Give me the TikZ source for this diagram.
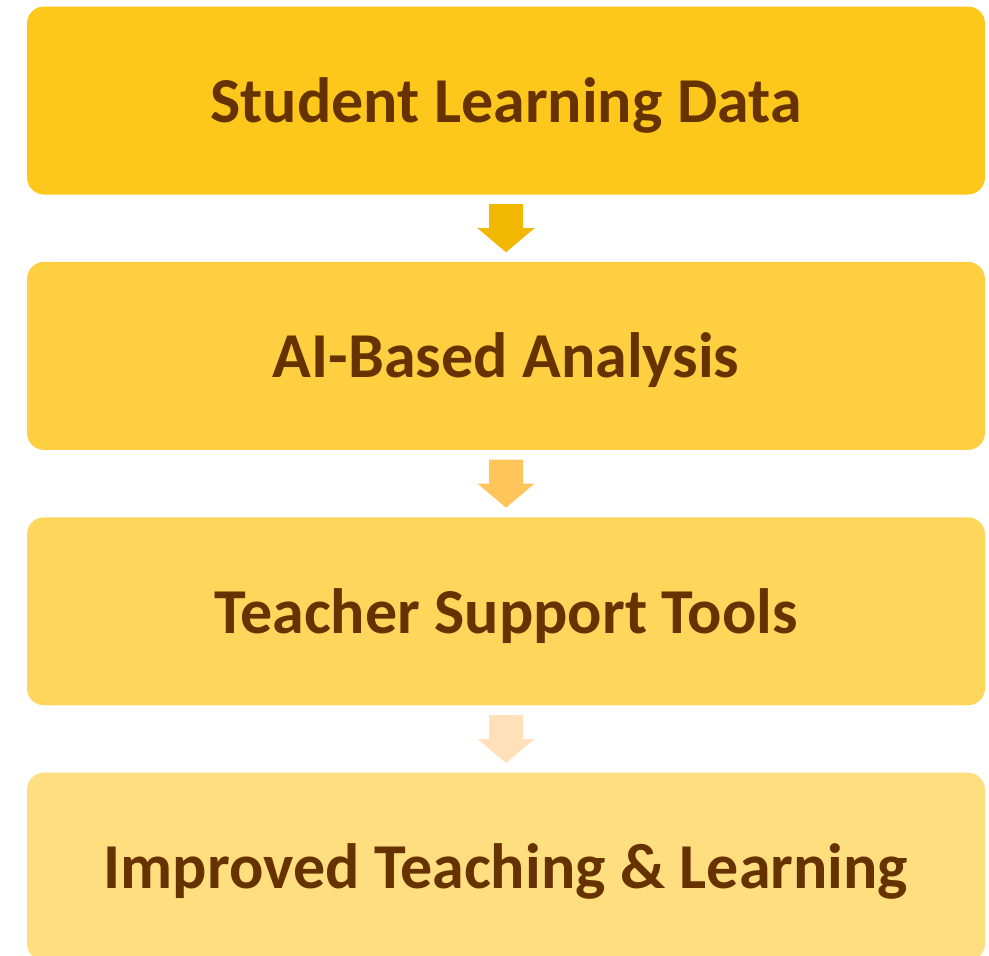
\documentclass[tikz,border=0pt]{standalone}
\usepackage{fontspec}
\setmainfont{Carlito}
\usetikzlibrary{calc,positioning}

\definecolor{stepA}{HTML}{FEC71C}
\definecolor{stepB}{HTML}{FECF40}
\definecolor{stepC}{HTML}{FED65C}
\definecolor{stepD}{HTML}{FEDE7E}
\definecolor{arrA}{HTML}{F2B700}
\definecolor{arrB}{HTML}{FFC55A}
\definecolor{arrC}{HTML}{FFE0B8}
\definecolor{txtbrown}{HTML}{663300}

\tikzset{
  stepbox/.style={rectangle, rounded corners=17pt, minimum width=958pt, minimum height=188pt,
    inner sep=0pt},
  steptext/.style={text=txtbrown, font=\fontsize{64}{70}\selectfont\bfseries, inner sep=0pt}
}

\begin{document}
\begin{tikzpicture}[x=1pt,y=-1pt]
  \useasboundingbox (0,0) rectangle (989,956);
  \node[stepbox, fill=stepA] at (506,100.5) (Data){};
  \node[stepbox, fill=stepB, below=67pt of Data] (Analysis){};
  \node[stepbox, fill=stepC, below=67pt of Analysis] (Tools){};
  \node[stepbox, fill=stepD, below=67pt of Tools] (Improved){};

  \node[steptext, anchor=base] at ($(Data.center)+(0,22)$) (DataT){Student Learning Data};
  \node[steptext, anchor=base] at ($(Analysis.center)+(0,22)$) (AnalysisT){AI-Based Analysis};
  \node[steptext, anchor=base] at ($(Tools.center)+(0,22)$) (ToolsT){Teacher Support Tools};
  \node[steptext, anchor=base] at ($(Improved.center)+(0,22)$) (ImprovedT){Improved Teaching \& Learning};

  % block arrows between the steps
  \foreach \a/\b/\c in {Data/Analysis/arrA, Analysis/Tools/arrB, Tools/Improved/arrC}{
    \coordinate (M\a) at ($(\a.south)!0.5!(\b.north)$);
    \fill[\c] ($(M\a)+(-17,-24)$) -- ($(M\a)+(17,-24)$) -- ($(M\a)+(17,0)$) -- ($(M\a)+(28.5,0)$)
      -- ($(M\a)+(0,24)$) -- ($(M\a)+(-28.5,0)$) -- ($(M\a)+(-17,0)$) -- cycle;
  }
\end{tikzpicture}
\end{document}
